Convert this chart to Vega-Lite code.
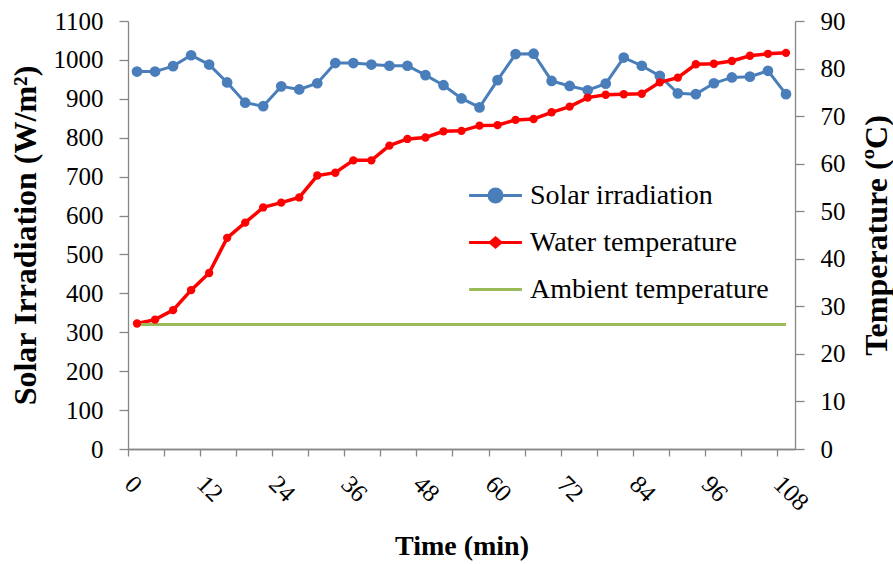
{
  "$schema": "https://vega.github.io/schema/vega-lite/v6.json",
  "width": 667,
  "height": 428,
  "autosize": "none",
  "padding": {"left": 128, "top": 21, "right": 98, "bottom": 115},
  "background": "white",
  "config": {
    "view": {"stroke": null},
    "font": "Liberation Serif",
    "axis": {
      "grid": false,
      "domainColor": "#868686",
      "tickColor": "#868686",
      "domainWidth": 1.3,
      "tickWidth": 1.3,
      "labelColor": "black",
      "titleColor": "black",
      "labelFont": "Liberation Serif, Times New Roman, serif",
      "titleFont": "Liberation Serif, Times New Roman, serif",
      "labelFontSize": 25,
      "titleFontSize": 32,
      "titleFontWeight": "bold"
    },
    "legend": {
      "labelFont": "Liberation Serif, Times New Roman, serif"
    }
  },
  "data": {
    "values": [
      {"t": 0, "Solar irradiation": 970, "Water temperature": 26.4, "Ambient temperature": 26.2},
      {"t": 3, "Solar irradiation": 970, "Water temperature": 27.2, "Ambient temperature": 26.2},
      {"t": 6, "Solar irradiation": 984, "Water temperature": 29.2, "Ambient temperature": 26.2},
      {"t": 9, "Solar irradiation": 1012, "Water temperature": 33.4, "Ambient temperature": 26.2},
      {"t": 12, "Solar irradiation": 988, "Water temperature": 37.0, "Ambient temperature": 26.2},
      {"t": 15, "Solar irradiation": 942, "Water temperature": 44.4, "Ambient temperature": 26.2},
      {"t": 18, "Solar irradiation": 890, "Water temperature": 47.6, "Ambient temperature": 26.2},
      {"t": 21, "Solar irradiation": 881, "Water temperature": 50.8, "Ambient temperature": 26.2},
      {"t": 24, "Solar irradiation": 932, "Water temperature": 51.8, "Ambient temperature": 26.2},
      {"t": 27, "Solar irradiation": 924, "Water temperature": 52.9, "Ambient temperature": 26.2},
      {"t": 30, "Solar irradiation": 940, "Water temperature": 57.5, "Ambient temperature": 26.2},
      {"t": 33, "Solar irradiation": 992, "Water temperature": 58.1, "Ambient temperature": 26.2},
      {"t": 36, "Solar irradiation": 992, "Water temperature": 60.7, "Ambient temperature": 26.2},
      {"t": 39, "Solar irradiation": 988, "Water temperature": 60.7, "Ambient temperature": 26.2},
      {"t": 42, "Solar irradiation": 985, "Water temperature": 63.8, "Ambient temperature": 26.2},
      {"t": 45, "Solar irradiation": 985, "Water temperature": 65.2, "Ambient temperature": 26.2},
      {"t": 48, "Solar irradiation": 961, "Water temperature": 65.5, "Ambient temperature": 26.2},
      {"t": 51, "Solar irradiation": 935, "Water temperature": 66.8, "Ambient temperature": 26.2},
      {"t": 54, "Solar irradiation": 901, "Water temperature": 66.9, "Ambient temperature": 26.2},
      {"t": 57, "Solar irradiation": 878, "Water temperature": 68.0, "Ambient temperature": 26.2},
      {"t": 60, "Solar irradiation": 948, "Water temperature": 68.1, "Ambient temperature": 26.2},
      {"t": 63, "Solar irradiation": 1015, "Water temperature": 69.2, "Ambient temperature": 26.2},
      {"t": 66, "Solar irradiation": 1016, "Water temperature": 69.4, "Ambient temperature": 26.2},
      {"t": 69, "Solar irradiation": 946, "Water temperature": 70.8, "Ambient temperature": 26.2},
      {"t": 72, "Solar irradiation": 933, "Water temperature": 72.0, "Ambient temperature": 26.2},
      {"t": 75, "Solar irradiation": 922, "Water temperature": 73.9, "Ambient temperature": 26.2},
      {"t": 78, "Solar irradiation": 939, "Water temperature": 74.5, "Ambient temperature": 26.2},
      {"t": 81, "Solar irradiation": 1006, "Water temperature": 74.6, "Ambient temperature": 26.2},
      {"t": 84, "Solar irradiation": 985, "Water temperature": 74.7, "Ambient temperature": 26.2},
      {"t": 87, "Solar irradiation": 959, "Water temperature": 77.1, "Ambient temperature": 26.2},
      {"t": 90, "Solar irradiation": 914, "Water temperature": 78.1, "Ambient temperature": 26.2},
      {"t": 93, "Solar irradiation": 912, "Water temperature": 80.9, "Ambient temperature": 26.2},
      {"t": 96, "Solar irradiation": 940, "Water temperature": 81.0, "Ambient temperature": 26.2},
      {"t": 99, "Solar irradiation": 955, "Water temperature": 81.6, "Ambient temperature": 26.2},
      {"t": 102, "Solar irradiation": 957, "Water temperature": 82.7, "Ambient temperature": 26.2},
      {"t": 105, "Solar irradiation": 972, "Water temperature": 83.1, "Ambient temperature": 26.2},
      {"t": 108, "Solar irradiation": 912, "Water temperature": 83.3, "Ambient temperature": 26.2}
    ]
  },
  "transform": [
    {"fold": ["Solar irradiation", "Water temperature", "Ambient temperature"], "as": ["series", "value"]}
  ],
  "layer": [
    {
      "transform": [{"filter": "datum.series == 'Solar irradiation'"}],
      "encoding": {
        "x": {
          "field": "t", "type": "quantitative",
          "scale": {"domain": [-1.5, 109.5], "nice": false, "zero": false},
          "axis": {
            "orient": "bottom",
            "values": [-1.5, 4.5, 10.5, 16.5, 22.5, 28.5, 34.5, 40.5, 46.5, 52.5, 58.5, 64.5, 70.5, 76.5, 82.5, 88.5, 94.5, 100.5, 106.5],
            "labels": false, "tickSize": 7, "title": null
          }
        },
        "y": {
          "field": "value", "type": "quantitative",
          "scale": {"domain": [0, 1100], "nice": false},
          "axis": {
            "orient": "left",
            "values": [0, 100, 200, 300, 400, 500, 600, 700, 800, 900, 1000, 1100],
            "format": "d",
            "labelFont": "Liberation Serif, Times New Roman, serif",
            "tickSize": 9, "labelPadding": 16, "titlePadding": 11,
            "title": "Solar Irradiation (W/m²)"
          }
        },
        "color": {
          "field": "series", "type": "nominal",
          "scale": {
            "domain": ["Solar irradiation", "Water temperature", "Ambient temperature"],
            "range": ["#4A7EBB", "#FF0000", "#9BBB59"]
          },
          "legend": {
            "title": null,
            "orient": "none",
            "legendX": 342,
            "legendY": 149,
            "symbolSize": 2304,
            "symbolStrokeWidth": 3,
            "rowPadding": 7,
            "labelOffset": 9,
            "labelFont": "Liberation Serif, Times New Roman, serif",
            "labelFontSize": 28,
            "labelColor": "black",
            "labelLimit": 400,
            "padding": 0,
            "encode": {
              "labels": {
                "update": {
                  "font": {"value": "Liberation Serif, Times New Roman, serif"}
                }
              },
              "symbols": {
                "update": {
                  "shape": {"signal": "datum.value == 'Solar irradiation' ? 'M-1.1,0H1.1M0.27,0A0.27,0.27,0,1,1,-0.27,0A0.27,0.27,0,1,1,0.27,0Z' : datum.value == 'Water temperature' ? 'M-1.1,0H1.1M0,-0.19L0.22,0L0,0.19L-0.22,0Z' : 'M-1.1,0H1.1'"},
                  "fill": {"scale": "color", "field": "value"},
                  "stroke": {"scale": "color", "field": "value"},
                  "strokeWidth": {"value": 3},
                  "opacity": {"value": 1},
                  "fillOpacity": {"value": 1},
                  "strokeOpacity": {"value": 1}
                }
              }
            }
          }
        }
      },
      "layer": [
        {"mark": {"type": "line", "strokeWidth": 3}},
        {"mark": {"type": "point", "filled": true, "size": 115, "opacity": 1}}
      ]
    },
    {
      "transform": [{"filter": "datum.series != 'Solar irradiation'"}],
      "encoding": {
        "x": {
          "field": "t", "type": "quantitative",
          "axis": {
            "orient": "bottom",
            "values": [0, 12, 24, 36, 48, 60, 72, 84, 96, 108],
            "labelFont": "Liberation Serif, Times New Roman, serif",
            "ticks": false, "labelAngle": 45, "labelPadding": 22,
            "title": "Time (min)", "titleFontSize": 28, "titlePadding": 17
          }
        },
        "y": {
          "field": "value", "type": "quantitative",
          "scale": {"domain": [0, 90], "nice": false},
          "axis": {
            "orient": "right",
            "values": [0, 10, 20, 30, 40, 50, 60, 70, 80, 90],
            "labelFont": "Liberation Serif, Times New Roman, serif",
            "tickSize": 9, "labelPadding": 16, "titlePadding": 16,
            "titleAngle": 270,
            "titleBaseline": "top",
            "title": "Temperature (ºC)"
          }
        },
        "color": {"field": "series", "type": "nominal"}
      },
      "layer": [
        {
          "mark": {"type": "line"},
          "encoding": {
            "strokeWidth": {
              "field": "series", "type": "nominal",
              "scale": {"domain": ["Water temperature", "Ambient temperature"], "range": [3.5, 3]},
              "legend": null
            }
          }
        },
        {
          "transform": [{"filter": "datum.series == 'Water temperature'"}],
          "mark": {"type": "point", "filled": true, "size": 70, "opacity": 1}
        }
      ]
    }
  ],
  "resolve": {"scale": {"y": "independent"}, "axis": {"x": "independent"}}
}
